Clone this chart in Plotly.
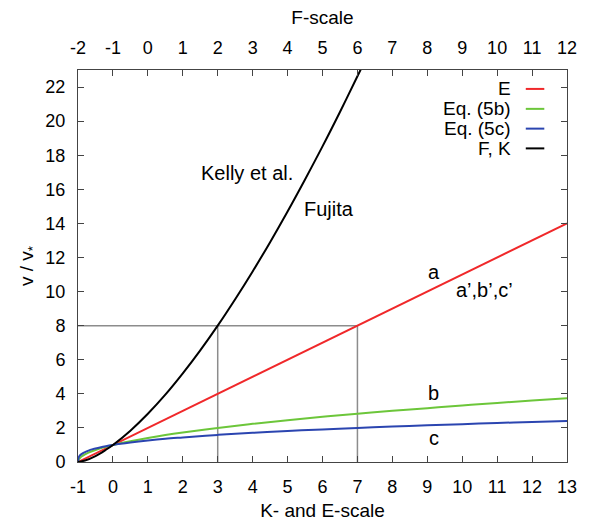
import plotly.graph_objects as go

# K / E scale positions (bottom axis)
x_e = [-1, 13]
y_e = [0, 14]

x_curve = [-1, -0.98, -0.95, -0.9, -0.8, -0.7, -0.6, -0.4, -0.2, 0, 0.5, 1, 1.5, 2, 3, 4, 5, 6, 7, 8, 9, 10, 11, 12, 13]
y_5b = [0, 0.14, 0.22, 0.32, 0.45, 0.55, 0.63, 0.77, 0.89, 1, 1.22, 1.41, 1.58, 1.73, 2, 2.24, 2.45, 2.65, 2.83, 3, 3.16, 3.32, 3.46, 3.61, 3.74]
y_5c = [0, 0.27, 0.37, 0.46, 0.58, 0.67, 0.74, 0.84, 0.93, 1, 1.14, 1.26, 1.36, 1.44, 1.59, 1.71, 1.82, 1.91, 2, 2.08, 2.15, 2.22, 2.29, 2.35, 2.41]

x_fk = [-1, -0.8, -0.5, -0.2, 0, 0.5, 1, 1.5, 2, 2.5, 3, 3.5, 4, 4.5, 5, 5.5, 6, 6.5, 7, 7.3]
y_fk = [0, 0.09, 0.35, 0.72, 1, 1.84, 2.83, 3.95, 5.2, 6.55, 8, 9.55, 11.18, 12.9, 14.7, 16.58, 18.52, 20.54, 22.63, 23.9]

# reference guide lines
guide_x = [-1, 7, 7, None, 3, 3]
guide_y = [8, 8, 0, None, 8, 0]

k_ticks = list(range(-1, 14))
f_ticks = list(range(-2, 13))
y_ticks = list(range(0, 23, 2))
f_range = [-2, 12]
k_range = [-1, 13]
y_range = [0, 23]

series_names = ["E", "Eq. (5b)", "Eq. (5c)", "F, K"]
series_colors = ["#f0282a", "#6cc63a", "#2b45b0", "#000000"]

labels = [
    ("Kelly et al.", 3.85, 16.95),
    ("Fujita", 6.2, 14.85),
    ("a", 9.18, 11.12),
    ("a\u2019,b\u2019,c\u2019", 10.65, 10.08),
    ("b", 9.18, 4.03),
    ("c", 9.18, 1.41),
]

font_family = "Liberation Sans, Arial, sans-serif"

fig = go.Figure()
fig.add_trace(go.Scatter(x=guide_x, y=guide_y, mode="lines",
                         line=dict(color="#8c8c8c", width=1.5), showlegend=False, hoverinfo="skip"))
fig.add_trace(go.Scatter(x=x_e, y=y_e, mode="lines", name=series_names[0],
                         line=dict(color=series_colors[0], width=2), showlegend=False))
fig.add_trace(go.Scatter(x=x_curve, y=y_5b, mode="lines", name=series_names[1], line_shape="spline",
                         line=dict(color=series_colors[1], width=2), showlegend=False))
fig.add_trace(go.Scatter(x=x_curve, y=y_5c, mode="lines", name=series_names[2], line_shape="spline",
                         line=dict(color=series_colors[2], width=2), showlegend=False))
fig.add_trace(go.Scatter(x=x_fk, y=y_fk, mode="lines", name=series_names[3], line_shape="spline",
                         line=dict(color=series_colors[3], width=2), showlegend=False))
# invisible trace to anchor the top F-scale axis
fig.add_trace(go.Scatter(x=f_range, y=[None, None], xaxis="x2", mode="lines",
                         showlegend=False, hoverinfo="skip"))

# manual legend (text right-aligned, sample line on the right)
leg_y = [21.89, 20.72, 19.56, 18.4]
for name, col, yy in zip(series_names, series_colors, leg_y):
    fig.add_annotation(x=11.45, y=yy, xref="x", yref="y", text=name, showarrow=False,
                       xanchor="right", yanchor="middle", font=dict(size=19, color="#000"))
    fig.add_shape(type="line", xref="x", yref="y", x0=11.82, x1=12.35, y0=yy, y1=yy,
                  line=dict(color=col, width=2))

for txt, lx, ly in labels:
    fig.add_annotation(x=lx, y=ly, xref="x", yref="y", text=txt, showarrow=False,
                       xanchor="center", yanchor="middle", font=dict(size=20, color="#000"))

axis_common = dict(ticks="inside", ticklen=6, tickwidth=1, tickcolor="#444",
                   showline=True, linecolor="#444", linewidth=1, showgrid=False,
                   zeroline=False, tickfont=dict(size=18, color="#000"), ticklabelstandoff=8,
                   ticklabeloverflow="allow")

fig.update_layout(
    width=589, height=530,
    margin=dict(l=78, r=14, t=70, b=65),
    paper_bgcolor="white", plot_bgcolor="white",
    font=dict(family=font_family, color="#000"),
    xaxis=dict(range=k_range, tickvals=k_ticks, ticktext=[str(v) for v in k_ticks],
               title=dict(text="K- and E-scale", font=dict(size=19), standoff=8), **axis_common),
    xaxis2=dict(range=f_range, tickvals=f_ticks, ticktext=[str(v) for v in f_ticks],
                overlaying="x", side="top",
                title=dict(text="F-scale", font=dict(size=19), standoff=8), **axis_common),
    yaxis=dict(range=y_range, tickvals=y_ticks, ticktext=[str(v) for v in y_ticks], mirror="ticks",
               title=dict(text="v / v<sub>*</sub>", font=dict(size=19), standoff=6), **axis_common),
)

fig.write_html("out.html", config={"displayModeBar": False},
               post_script="document.body.style.margin='0';document.body.style.overflow='hidden';")
